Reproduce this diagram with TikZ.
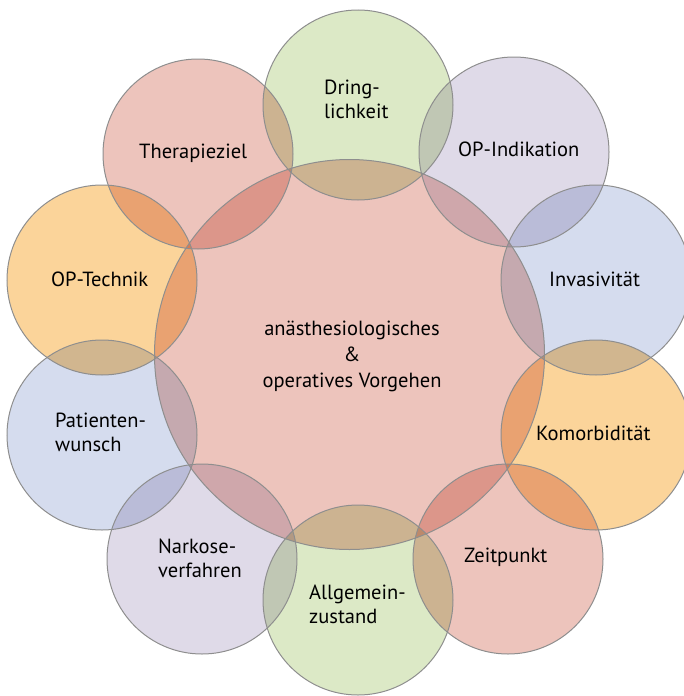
\documentclass[tikz,border=0pt]{standalone}
\usepackage{fontspec}
\setmainfont{PT Sans}
\definecolor{salmon}{RGB}{237,196,188}
\definecolor{lightgreen}{RGB}{220,233,198}
\definecolor{lavender}{RGB}{223,218,232}
\definecolor{lightblue}{RGB}{213,220,238}
\definecolor{lightorange}{RGB}{251,212,154}
\definecolor{rimgray}{RGB}{142,142,142}

\begin{document}
\begin{tikzpicture}[x=1pt,y=-1pt,
		rim/.style={draw=rimgray,line width=1pt},
		label/.style={font=\fontsize{20.5}{24}\selectfont,align=left,inner sep=0pt},
		middle/.style={font=\fontsize{20.5}{26}\selectfont,align=center,inner sep=0pt}]
	\useasboundingbox (0,0) rectangle (684,696);
	% filled circles, colours multiply where they overlap
	\begin{scope}[blend mode=multiply]
		\fill[salmon] (349.5,354.5) circle (195);
		\fill[lightgreen] (358,105) circle (95);
		\fill[lavender] (514,152) circle (95);
		\fill[lightblue] (596,280) circle (95);
		\fill[lightorange] (596,435) circle (95);
		\fill[salmon] (508,559) circle (95);
		\fill[lightgreen] (358,600) circle (95);
		\fill[lavender] (202,559) circle (95);
		\fill[lightblue] (102,435) circle (95);
		\fill[lightorange] (102,280) circle (95);
		\fill[salmon] (198,154) circle (95);
	\end{scope}
	% outlines
	\foreach \p in {(358,105),(514,152),(596,280),(596,435),(508,559),(358,600),(202,559),(102,435),(102,280),(198,154)}
		\draw[rim] \p circle (95);
	\draw[rim] (349.5,354.5) circle (195);
	% texts
	\node[middle] (vorgehen) at (352,356) {anästhesiologisches\\\&\\operatives Vorgehen};
	\node[label,anchor=west] (dring) at (324,99) {Dring-\\lichkeit};
	\node[label,anchor=west] (indikation) at (458,149) {OP-Indikation};
	\node[label,anchor=west] (invasiv) at (549,279) {Invasivität};
	\node[label,anchor=west] (komorb) at (536,433) {Komorbidität};
	\node[label,anchor=west] (zeit) at (464,557) {Zeitpunkt};
	\node[label,anchor=west] (allgemein) at (309,604) {Allgemein-\\zustand};
	\node[label,anchor=west] (narkose) at (158,558) {Narkose-\\verfahren};
	\node[label,anchor=west] (wunsch) at (55,432) {Patienten-\\wunsch};
	\node[label,anchor=west] (technik) at (51,279) {OP-Technik};
	\node[label,anchor=west] (ziel) at (139,153) {Therapieziel};
\end{tikzpicture}
\end{document}
